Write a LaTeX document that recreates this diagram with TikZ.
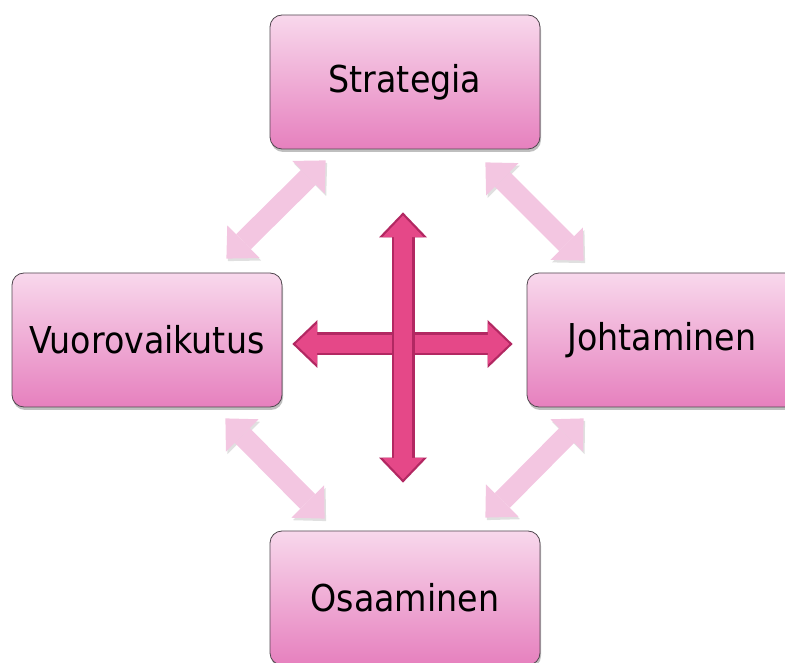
\documentclass[tikz,border=0pt]{standalone}
\usepackage{fontspec}
\setmainfont{DejaVu Sans Condensed}
\usetikzlibrary{positioning,calc,shadows,arrows.meta}

\definecolor{boxtop}{RGB}{248,216,236}
\definecolor{boxbottom}{RGB}{230,128,190}
\definecolor{boxline}{RGB}{80,70,78}
\definecolor{softpink}{RGB}{243,198,225}
\definecolor{crossfill}{RGB}{229,72,136}
\definecolor{crossline}{RGB}{178,40,98}

\tikzset{
  topic/.style={rectangle, rounded corners=12pt, draw=boxline, line width=.8pt,
    top color=boxtop, bottom color=boxbottom,
    minimum width=270pt, minimum height=134pt,
    drop shadow={shadow xshift=1pt, shadow yshift=-3pt, opacity=.5},
    font=\fontsize{37}{40}\selectfont, text=black},
  soft arrow/.style={line width=21pt, draw=softpink,
    {Triangle[width=46pt,length=24pt,line width=0pt]}-{Triangle[width=46pt,length=24pt,line width=0pt]},
    preaction={draw=black, opacity=.12, transform canvas={shift={(1.5pt,-2.5pt)}}}},
  cross edge/.style={line width=23pt, draw=crossline,
    {Triangle[width=48pt,length=25pt,line width=0pt]}-{Triangle[width=48pt,length=25pt,line width=0pt]}},
  cross core/.style={line width=18pt, draw=crossfill, shorten <=3.2pt, shorten >=3.2pt,
    {Triangle[width=41pt,length=21.5pt,line width=0pt]}-{Triangle[width=41pt,length=21.5pt,line width=0pt]}}
}

\begin{document}
\begin{tikzpicture}[x=1pt, y=1pt]
\useasboundingbox (0,0) rectangle (785,662);

\foreach \m/\l/\px/\py in {strat/Strategia/405/580, vuoro/Vuorovaikutus/147/322,
                           johto/Johtaminen/662/322, osaa/Osaaminen/405/64}
  \node [topic] (\m) at (\px,\py) {\l};

\foreach \a/\ax/\ay/\b/\bx/\by in {strat.south west/56/-11/vuoro.north east/-56/14,
                                   strat.south east/-55/-13/johto.north west/57/12,
                                   vuoro.south east/-57/-11/osaa.north west/55/12,
                                   johto.south west/57/-11/osaa.north east/-55/13}
  \draw [soft arrow] ($(\a)+(\ax,\ay)$) -- ($(\b)+(\bx,\by)$);

\coordinate (cross-w) at ($(vuoro.east)+(10,-4)$);
\coordinate (cross-e) at ($(johto.west)+(-14,-4)$);
\coordinate (cross-n) at ($(strat.south)+(-2,-63)$);
\coordinate (cross-s) at ($(osaa.north)+(-2,48)$);

\draw [cross edge] (cross-w) -- (cross-e);
\draw [cross core] (cross-w) -- (cross-e);
\draw [cross edge] (cross-n) -- (cross-s);
\draw [cross core] (cross-n) -- (cross-s);
\end{tikzpicture}
\end{document}
